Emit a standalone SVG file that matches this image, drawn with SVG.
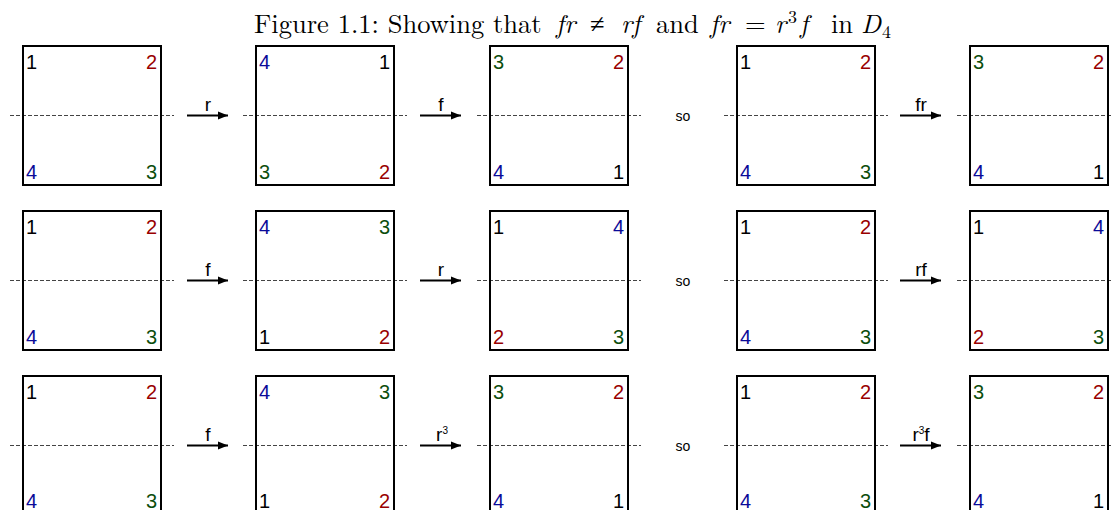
<svg xmlns="http://www.w3.org/2000/svg" width="1112" height="510" viewBox="0 0 1112 510">
<style>
.sq{fill:none;stroke:#000;stroke-width:2}
.ax{stroke:#444;stroke-width:1;stroke-dasharray:4 2}
.n{font-family:"Liberation Sans",Arial,sans-serif;font-size:20px}
.r{text-anchor:end}
.c1{fill:#000}.c2{fill:#990000}.c3{fill:#0b4d0b}.c4{fill:#0a0a99}
.arr{stroke:#000;stroke-width:2;fill:none}
.lbl{font-family:"Liberation Sans",Arial,sans-serif;font-size:19px;text-anchor:middle;fill:#000}
.so{font-family:"Liberation Sans",Arial,sans-serif;font-size:14px;text-anchor:middle;fill:#000}
.title{font-family:"Latin Modern Roman","Liberation Serif","Times New Roman",serif;font-size:26.5px;fill:#000}
.it{font-style:italic}
</style>
<defs>
<marker id="ah" viewBox="0 0 10 10" refX="10" refY="5" markerWidth="5" markerHeight="5" orient="auto" markerUnits="strokeWidth"><path d="M0,1 L10,5 L0,9 z" fill="#000"/></marker>
<g id="sqshape"><rect class="sq" x="0" y="0" width="138" height="139"/></g>
</defs>
<text class="title" x="254" y="33">Figure 1.1: Showing that<tspan class="it" x="556">fr</tspan><tspan x="590">≠</tspan><tspan class="it" x="621">rf</tspan><tspan x="656">and</tspan><tspan class="it" x="710">fr</tspan><tspan x="745">=</tspan><tspan class="it" x="775">r</tspan><tspan font-size="18px" x="788" dy="-10">3</tspan><tspan class="it" x="800" dy="10">f</tspan><tspan x="831">in</tspan><tspan class="it" x="861">D</tspan><tspan font-size="18px" x="882" dy="5">4</tspan></text>

<g id="axes">
<line class="ax" x1="10" y1="115.5" x2="174" y2="115.5"/><line class="ax" x1="243" y1="115.5" x2="407" y2="115.5"/><line class="ax" x1="477" y1="115.5" x2="641" y2="115.5"/><line class="ax" x1="724" y1="115.5" x2="888" y2="115.5"/><line class="ax" x1="957" y1="115.5" x2="1112" y2="115.5"/>
<line class="ax" x1="10" y1="280.5" x2="174" y2="280.5"/><line class="ax" x1="243" y1="280.5" x2="407" y2="280.5"/><line class="ax" x1="477" y1="280.5" x2="641" y2="280.5"/><line class="ax" x1="724" y1="280.5" x2="888" y2="280.5"/><line class="ax" x1="957" y1="280.5" x2="1112" y2="280.5"/>
<line class="ax" x1="10" y1="445.5" x2="174" y2="445.5"/><line class="ax" x1="243" y1="445.5" x2="407" y2="445.5"/><line class="ax" x1="477" y1="445.5" x2="641" y2="445.5"/><line class="ax" x1="724" y1="445.5" x2="888" y2="445.5"/><line class="ax" x1="957" y1="445.5" x2="1112" y2="445.5"/>
</g>

<!-- Row 1 -->
<g id="r1s1" transform="translate(23,46)"><use href="#sqshape"/><text class="n c1" x="3" y="23">1</text><text class="n c2 r" x="134" y="23">2</text><text class="n c4" x="3" y="133">4</text><text class="n c3 r" x="134" y="133">3</text></g>
<g id="r1s2" transform="translate(256,46)"><use href="#sqshape"/><text class="n c4" x="3" y="23">4</text><text class="n c1 r" x="134" y="23">1</text><text class="n c3" x="3" y="133">3</text><text class="n c2 r" x="134" y="133">2</text></g>
<g id="r1s3" transform="translate(490,46)"><use href="#sqshape"/><text class="n c3" x="3" y="23">3</text><text class="n c2 r" x="134" y="23">2</text><text class="n c4" x="3" y="133">4</text><text class="n c1 r" x="134" y="133">1</text></g>
<g id="r1s4" transform="translate(737,46)"><use href="#sqshape"/><text class="n c1" x="3" y="23">1</text><text class="n c2 r" x="134" y="23">2</text><text class="n c4" x="3" y="133">4</text><text class="n c3 r" x="134" y="133">3</text></g>
<g id="r1s5" transform="translate(970,46)"><use href="#sqshape"/><text class="n c3" x="3" y="23">3</text><text class="n c2 r" x="134" y="23">2</text><text class="n c4" x="3" y="133">4</text><text class="n c1 r" x="134" y="133">1</text></g>

<!-- Row 2 -->
<g id="r2s1" transform="translate(23,211)"><use href="#sqshape"/><text class="n c1" x="3" y="23">1</text><text class="n c2 r" x="134" y="23">2</text><text class="n c4" x="3" y="133">4</text><text class="n c3 r" x="134" y="133">3</text></g>
<g id="r2s2" transform="translate(256,211)"><use href="#sqshape"/><text class="n c4" x="3" y="23">4</text><text class="n c3 r" x="134" y="23">3</text><text class="n c1" x="3" y="133">1</text><text class="n c2 r" x="134" y="133">2</text></g>
<g id="r2s3" transform="translate(490,211)"><use href="#sqshape"/><text class="n c1" x="3" y="23">1</text><text class="n c4 r" x="134" y="23">4</text><text class="n c2" x="3" y="133">2</text><text class="n c3 r" x="134" y="133">3</text></g>
<g id="r2s4" transform="translate(737,211)"><use href="#sqshape"/><text class="n c1" x="3" y="23">1</text><text class="n c2 r" x="134" y="23">2</text><text class="n c4" x="3" y="133">4</text><text class="n c3 r" x="134" y="133">3</text></g>
<g id="r2s5" transform="translate(970,211)"><use href="#sqshape"/><text class="n c1" x="3" y="23">1</text><text class="n c4 r" x="134" y="23">4</text><text class="n c2" x="3" y="133">2</text><text class="n c3 r" x="134" y="133">3</text></g>

<!-- Row 3 -->
<g id="r3s1" transform="translate(23,376)"><use href="#sqshape"/><text class="n c1" x="3" y="23">1</text><text class="n c2 r" x="134" y="23">2</text><text class="n c4" x="3" y="132">4</text><text class="n c3 r" x="134" y="132">3</text></g>
<g id="r3s2" transform="translate(256,376)"><use href="#sqshape"/><text class="n c4" x="3" y="23">4</text><text class="n c3 r" x="134" y="23">3</text><text class="n c1" x="3" y="132">1</text><text class="n c2 r" x="134" y="132">2</text></g>
<g id="r3s3" transform="translate(490,376)"><use href="#sqshape"/><text class="n c3" x="3" y="23">3</text><text class="n c2 r" x="134" y="23">2</text><text class="n c4" x="3" y="132">4</text><text class="n c1 r" x="134" y="132">1</text></g>
<g id="r3s4" transform="translate(737,376)"><use href="#sqshape"/><text class="n c1" x="3" y="23">1</text><text class="n c2 r" x="134" y="23">2</text><text class="n c4" x="3" y="132">4</text><text class="n c3 r" x="134" y="132">3</text></g>
<g id="r3s5" transform="translate(970,376)"><use href="#sqshape"/><text class="n c3" x="3" y="23">3</text><text class="n c2 r" x="134" y="23">2</text><text class="n c4" x="3" y="132">4</text><text class="n c1 r" x="134" y="132">1</text></g>

<g id="connectors">
<line class="arr" x1="187" y1="115.5" x2="228" y2="115.5" marker-end="url(#ah)"/>
<line class="arr" x1="420" y1="115.5" x2="461" y2="115.5" marker-end="url(#ah)"/>
<line class="arr" x1="900" y1="115.5" x2="941" y2="115.5" marker-end="url(#ah)"/>
<line class="arr" x1="187" y1="280.5" x2="228" y2="280.5" marker-end="url(#ah)"/>
<line class="arr" x1="420" y1="280.5" x2="461" y2="280.5" marker-end="url(#ah)"/>
<line class="arr" x1="900" y1="280.5" x2="941" y2="280.5" marker-end="url(#ah)"/>
<line class="arr" x1="187" y1="445.5" x2="228" y2="445.5" marker-end="url(#ah)"/>
<line class="arr" x1="420" y1="445.5" x2="461" y2="445.5" marker-end="url(#ah)"/>
<line class="arr" x1="900" y1="445.5" x2="941" y2="445.5" marker-end="url(#ah)"/>
</g>

<g id="labels">
<text class="lbl" x="208" y="111">r</text>
<text class="lbl" x="441" y="111">f</text>
<text class="lbl" x="921" y="111">fr</text>
<text class="lbl" x="208" y="276">f</text>
<text class="lbl" x="441" y="276">r</text>
<text class="lbl" x="921" y="276">rf</text>
<text class="lbl" x="208" y="441">f</text>
<text class="lbl" x="442" y="441">r<tspan font-size="10px" dy="-7">3</tspan></text>
<text class="lbl" x="921" y="441">r<tspan font-size="10px" dy="-7">3</tspan><tspan dy="7">f</tspan></text>
<text class="so" x="683" y="121">so</text>
<text class="so" x="683" y="286">so</text>
<text class="so" x="683" y="451">so</text>
</g>
</svg>
